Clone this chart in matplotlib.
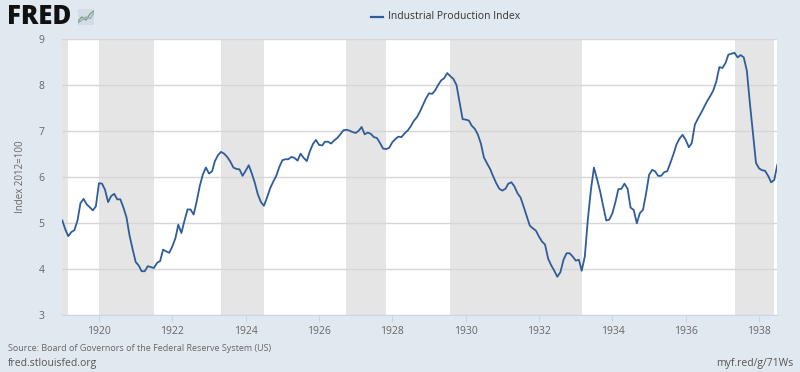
import numpy as np
import pandas as pd
import matplotlib
matplotlib.use("Agg")
import matplotlib.pyplot as plt
import matplotlib.dates as mdates

plt.rcParams['font.family'] = ['Open Sans', 'DejaVu Sans']

# Industrial Production Index (2012=100), monthly from Jan 1919
ipi = [
    5.05, 4.85, 4.71, 4.80, 4.84, 5.05, 5.43, 5.52, 5.40, 5.34, 5.27, 5.36,  # 1919
    5.86, 5.85, 5.72, 5.45, 5.58, 5.63, 5.51, 5.51, 5.33, 5.12, 4.72, 4.43,  # 1920
    4.15, 4.07, 3.95, 3.95, 4.06, 4.04, 4.02, 4.13, 4.17, 4.42, 4.38, 4.35,  # 1921
    4.49, 4.67, 4.96, 4.78, 5.04, 5.29, 5.29, 5.18, 5.47, 5.80, 6.05, 6.20,  # 1922
    6.07, 6.12, 6.34, 6.47, 6.54, 6.50, 6.43, 6.33, 6.20, 6.17, 6.16, 6.02,  # 1923
    6.13, 6.25, 6.08, 5.87, 5.62, 5.45, 5.37, 5.55, 5.75, 5.89, 6.02, 6.21,  # 1924
    6.36, 6.38, 6.38, 6.43, 6.41, 6.35, 6.50, 6.41, 6.34, 6.55, 6.71, 6.80,  # 1925
    6.69, 6.68, 6.76, 6.76, 6.72, 6.79, 6.84, 6.92, 7.01, 7.02, 7.00, 6.97,  # 1926
    6.95, 7.00, 7.08, 6.92, 6.96, 6.93, 6.86, 6.84, 6.73, 6.61, 6.60, 6.63,  # 1927
    6.75, 6.82, 6.87, 6.86, 6.94, 7.00, 7.09, 7.21, 7.29, 7.41, 7.56, 7.70,  # 1928
    7.81, 7.80, 7.87, 7.99, 8.09, 8.14, 8.25, 8.18, 8.12, 7.99, 7.62, 7.25,  # 1929
    7.24, 7.22, 7.11, 7.04, 6.92, 6.72, 6.42, 6.29, 6.17, 6.01, 5.86, 5.74,  # 1930
    5.70, 5.74, 5.85, 5.88, 5.79, 5.64, 5.55, 5.35, 5.14, 4.94, 4.88, 4.83,  # 1931
    4.70, 4.59, 4.53, 4.22, 4.08, 3.96, 3.83, 3.93, 4.20, 4.34, 4.34, 4.27,  # 1932
    4.18, 4.20, 3.96, 4.27, 5.07, 5.72, 6.20, 5.95, 5.68, 5.36, 5.05, 5.07,  # 1933
    5.21, 5.46, 5.73, 5.74, 5.85, 5.74, 5.33, 5.28, 4.99, 5.21, 5.28, 5.62,  # 1934
    6.04, 6.15, 6.12, 6.02, 6.02, 6.10, 6.12, 6.30, 6.49, 6.70, 6.83, 6.91,  # 1935
    6.80, 6.64, 6.73, 7.13, 7.26, 7.38, 7.51, 7.64, 7.75, 7.87, 8.07, 8.38,  # 1936
    8.36, 8.47, 8.65, 8.67, 8.69, 8.59, 8.64, 8.59, 8.30, 7.60, 6.95, 6.30,  # 1937
    6.18, 6.14, 6.13, 6.02, 5.88, 5.93, 6.26,                                # 1938
]
dates = pd.date_range('1919-01-01', periods=len(ipi), freq='MS')

# NBER recessions (shaded)
rec_start = ['1919-01-01', '1920-01-01', '1923-05-01', '1926-10-01', '1929-08-01', '1937-05-01']
rec_end = ['1919-03-01', '1921-07-01', '1924-07-01', '1927-11-01', '1933-03-01', '1938-06-01']

y_ticks = [3, 4, 5, 6, 7, 8, 9]

bg = '#e1e9f0'
fig = plt.figure(figsize=(8, 3.72), dpi=100, facecolor=bg)
ax = fig.add_axes([0.0779, 0.1532, 0.8937, 0.7433])
ax.set_facecolor('white')

for s, e in zip(rec_start, rec_end):
    ax.axvspan(pd.Timestamp(s), pd.Timestamp(e), color='#e5e5e5', lw=0, zorder=1)

ax.plot(dates, ipi, color='#2f5d99', lw=1.3, zorder=3)

ax.set_xlim(dates[0], dates[-1])
ax.set_ylim(3, 9)
ax.set_yticks(y_ticks)
ax.set_axisbelow('line')
ax.grid(axis='y', color='#d6d6d6', lw=1)
ax.xaxis.set_major_locator(mdates.YearLocator(2))
ax.xaxis.set_major_formatter(mdates.DateFormatter('%Y'))

for s in ['top', 'right', 'left']:
    ax.spines[s].set_visible(False)
ax.spines['bottom'].set_color('#ccd6eb')
ax.tick_params(axis='y', length=0, pad=13, labelsize=7.5, labelcolor='#666666')
ax.tick_params(axis='x', length=5, width=0.8, color='#ccd6eb', pad=3,
               labelsize=7.5, labelcolor='#666666')
ax.set_ylabel('Index 2012=100', fontsize=7, color='#666666', labelpad=9)

# header: logo + legend
fig.text(0.009, 0.953, 'FRED', fontsize=18.5, fontweight='heavy', color='#111111',
         va='center', ha='left')
icon = fig.add_axes([0.097, 0.933, 0.021, 0.043])
icon.set_facecolor('#d3dbe4')
icon.plot([0, 1, 2, 3, 4], [0.2, 0.5, 0.3, 0.7, 0.9], color='#7aa26b', lw=0.9)
icon.plot([0, 1, 2, 3, 4], [0.1, 0.3, 0.5, 0.4, 0.8], color='#8fa9c8', lw=0.9)
icon.set_xlim(0, 4); icon.set_ylim(0, 1)
icon.set_xticks([]); icon.set_yticks([])
for s in icon.spines.values():
    s.set_visible(False)

fig.add_artist(plt.Line2D([0.4635, 0.479], [0.955, 0.955], color='#2f5d99', lw=1.6))
fig.text(0.485, 0.955, 'Industrial Production Index', fontsize=7.5, color='#333333',
         va='center', ha='left')

# footer
fig.text(0.010, 0.062, 'Source: Board of Governors of the Federal Reserve System (US)',
         fontsize=6.5, color='#666666', va='center')
fig.text(0.010, 0.022, 'fred.stlouisfed.org', fontsize=7.5, color='#555555', va='center')
fig.text(0.992, 0.022, 'myf.red/g/71Ws', fontsize=7.5, color='#555555', va='center', ha='right')

fig.savefig('out.png', dpi=100, facecolor=bg)
